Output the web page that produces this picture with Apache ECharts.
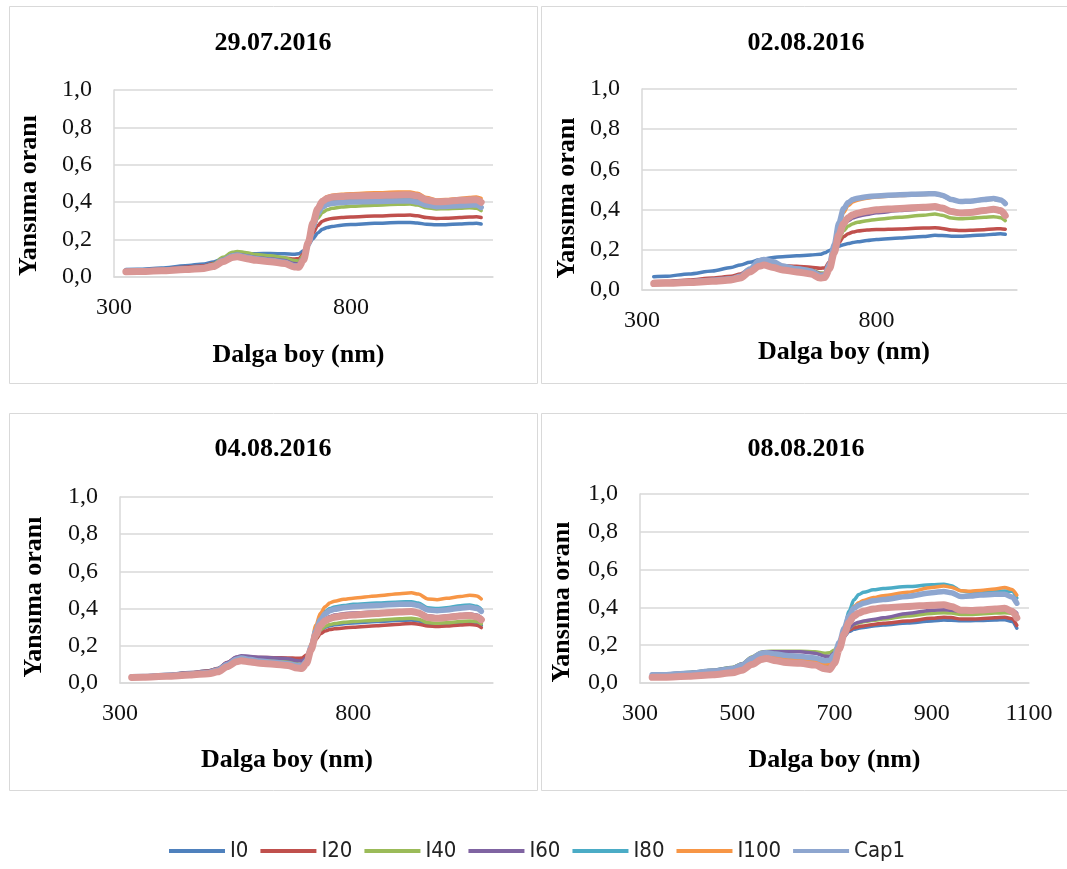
<!DOCTYPE html>
<html>
<head>
<meta charset="utf-8">
<script src="https://cdn.jsdelivr.net/npm/echarts@6/dist/echarts.min.js"></script>
<style>
html,body{margin:0;padding:0;background:#fff;}
#chart{width:1067px;height:869px;}
</style>
</head>
<body>
<div id="chart"></div>
<script>
// ---------- DATA ----------
const wavelengths = [325,350,400,450,490,510,530,550,560,580,600,630,660,680,690,700,710,720,730,740,750,760,780,800,850,900,925,940,960,980,1000,1030,1050,1065,1075];
const seriesNames = ['I0','I20','I40','I60','I80','I100','Cap1','Cap2'];
const legendNames = ['I0','I20','I40','I60','I80','I100','Cap1'];
const panelTitles = ['29.07.2016','02.08.2016','04.08.2016','08.08.2016'];
const xTicksWide = [300, 800];
const xTicksFine = [300, 500, 700, 900, 1100];
const yTicks = [0, 0.2, 0.4, 0.6, 0.8, 1.0];

// 29.07.2016
const p1_I0   = [0.040,0.041,0.048,0.060,0.070,0.080,0.098,0.115,0.121,0.124,0.125,0.126,0.124,0.122,0.125,0.140,0.170,0.205,0.235,0.255,0.265,0.270,0.277,0.281,0.287,0.291,0.292,0.289,0.282,0.279,0.280,0.284,0.286,0.287,0.283];
const p1_I20  = [0.035,0.036,0.042,0.052,0.060,0.072,0.095,0.118,0.122,0.116,0.110,0.107,0.102,0.096,0.098,0.125,0.180,0.235,0.275,0.298,0.308,0.313,0.318,0.321,0.326,0.330,0.331,0.327,0.318,0.313,0.314,0.318,0.321,0.322,0.318];
const p1_I40  = [0.032,0.033,0.038,0.047,0.055,0.070,0.105,0.132,0.137,0.130,0.120,0.113,0.103,0.088,0.085,0.115,0.185,0.260,0.315,0.345,0.360,0.367,0.374,0.378,0.384,0.389,0.390,0.385,0.370,0.364,0.365,0.368,0.370,0.368,0.355];
const p1_I60  = [0.032,0.033,0.037,0.045,0.052,0.065,0.095,0.118,0.122,0.113,0.104,0.097,0.088,0.072,0.070,0.105,0.180,0.270,0.335,0.370,0.385,0.392,0.398,0.401,0.405,0.408,0.408,0.402,0.388,0.380,0.381,0.385,0.388,0.388,0.375];
const p1_I80  = [0.031,0.032,0.036,0.044,0.050,0.062,0.090,0.114,0.118,0.108,0.098,0.090,0.080,0.062,0.060,0.098,0.180,0.280,0.350,0.388,0.402,0.408,0.413,0.416,0.420,0.423,0.423,0.417,0.400,0.392,0.393,0.398,0.401,0.402,0.395];
const p1_I100 = [0.030,0.031,0.035,0.042,0.048,0.060,0.088,0.112,0.116,0.106,0.096,0.088,0.077,0.058,0.055,0.095,0.190,0.300,0.375,0.415,0.430,0.437,0.442,0.445,0.450,0.454,0.455,0.448,0.425,0.412,0.414,0.420,0.425,0.428,0.420];
const p1_Cap1 = [0.031,0.032,0.036,0.044,0.051,0.062,0.090,0.113,0.117,0.107,0.097,0.089,0.079,0.060,0.058,0.095,0.175,0.270,0.340,0.375,0.388,0.394,0.398,0.401,0.404,0.406,0.406,0.400,0.384,0.376,0.377,0.381,0.384,0.385,0.372];
const p1_Cap2 = [0.028,0.029,0.033,0.040,0.046,0.056,0.082,0.104,0.108,0.098,0.089,0.082,0.072,0.054,0.052,0.090,0.185,0.290,0.365,0.405,0.420,0.427,0.431,0.433,0.436,0.439,0.440,0.433,0.412,0.402,0.404,0.410,0.412,0.413,0.400];

// 02.08.2016
const p2_I0   = [0.066,0.068,0.080,0.095,0.112,0.125,0.138,0.150,0.155,0.162,0.166,0.170,0.174,0.178,0.185,0.197,0.208,0.218,0.225,0.231,0.236,0.240,0.246,0.251,0.259,0.266,0.272,0.271,0.268,0.268,0.270,0.274,0.277,0.280,0.277];
const p2_I20  = [0.042,0.043,0.050,0.060,0.068,0.080,0.105,0.130,0.135,0.128,0.122,0.118,0.113,0.108,0.110,0.140,0.190,0.235,0.265,0.280,0.288,0.293,0.298,0.301,0.304,0.308,0.310,0.306,0.298,0.296,0.297,0.300,0.304,0.305,0.302];
const p2_I40  = [0.035,0.036,0.042,0.050,0.058,0.070,0.100,0.128,0.132,0.122,0.114,0.108,0.100,0.085,0.085,0.115,0.180,0.250,0.295,0.318,0.330,0.337,0.345,0.351,0.362,0.372,0.378,0.372,0.358,0.354,0.357,0.362,0.365,0.360,0.345];
const p2_I60  = [0.034,0.035,0.041,0.048,0.056,0.068,0.100,0.130,0.136,0.126,0.117,0.110,0.100,0.082,0.080,0.115,0.190,0.270,0.320,0.345,0.358,0.366,0.376,0.384,0.395,0.403,0.407,0.400,0.385,0.381,0.384,0.390,0.395,0.390,0.375];
const p2_I80  = [0.033,0.034,0.040,0.047,0.055,0.066,0.100,0.135,0.142,0.132,0.118,0.106,0.095,0.075,0.078,0.125,0.220,0.330,0.400,0.432,0.448,0.455,0.462,0.467,0.473,0.477,0.478,0.470,0.448,0.440,0.442,0.448,0.452,0.445,0.432];
const p2_I100 = [0.033,0.034,0.040,0.047,0.055,0.066,0.098,0.130,0.137,0.127,0.116,0.105,0.096,0.078,0.080,0.118,0.205,0.310,0.385,0.420,0.438,0.447,0.457,0.463,0.470,0.475,0.477,0.469,0.448,0.440,0.442,0.448,0.452,0.446,0.435];
const p2_Cap1 = [0.034,0.035,0.041,0.048,0.056,0.068,0.105,0.145,0.152,0.140,0.120,0.106,0.095,0.072,0.075,0.128,0.225,0.335,0.405,0.435,0.450,0.457,0.464,0.468,0.474,0.478,0.479,0.472,0.450,0.440,0.442,0.450,0.455,0.448,0.430];
const p2_Cap2 = [0.032,0.033,0.037,0.043,0.050,0.060,0.090,0.118,0.124,0.112,0.100,0.090,0.080,0.060,0.062,0.105,0.185,0.275,0.330,0.360,0.375,0.382,0.392,0.399,0.406,0.412,0.415,0.408,0.390,0.383,0.386,0.395,0.402,0.395,0.370];

// 04.08.2016
const p3_I0   = [0.037,0.038,0.046,0.056,0.066,0.078,0.108,0.135,0.140,0.136,0.132,0.130,0.127,0.122,0.122,0.140,0.185,0.240,0.280,0.300,0.308,0.313,0.319,0.323,0.330,0.337,0.339,0.334,0.318,0.315,0.318,0.324,0.327,0.322,0.310];
const p3_I20  = [0.036,0.037,0.045,0.055,0.065,0.078,0.110,0.138,0.143,0.140,0.137,0.136,0.135,0.133,0.134,0.150,0.190,0.235,0.265,0.280,0.287,0.291,0.296,0.300,0.308,0.316,0.320,0.316,0.306,0.304,0.306,0.312,0.315,0.310,0.298];
const p3_I40  = [0.034,0.035,0.042,0.050,0.058,0.072,0.105,0.134,0.140,0.133,0.125,0.120,0.114,0.103,0.100,0.122,0.180,0.240,0.285,0.305,0.314,0.320,0.326,0.330,0.338,0.346,0.348,0.343,0.325,0.321,0.324,0.330,0.334,0.330,0.318];
const p3_I60  = [0.035,0.036,0.043,0.052,0.060,0.075,0.110,0.140,0.147,0.143,0.138,0.135,0.130,0.120,0.118,0.135,0.190,0.260,0.315,0.345,0.358,0.365,0.372,0.377,0.382,0.387,0.388,0.382,0.362,0.356,0.360,0.368,0.372,0.366,0.350];
const p3_I80  = [0.033,0.034,0.040,0.048,0.056,0.068,0.098,0.126,0.132,0.124,0.116,0.110,0.102,0.092,0.090,0.120,0.200,0.290,0.350,0.385,0.400,0.408,0.417,0.423,0.430,0.436,0.437,0.430,0.405,0.400,0.405,0.415,0.420,0.412,0.395];
const p3_I100 = [0.032,0.033,0.038,0.046,0.054,0.066,0.095,0.122,0.128,0.120,0.112,0.106,0.097,0.085,0.084,0.120,0.210,0.310,0.375,0.410,0.430,0.440,0.450,0.456,0.468,0.480,0.485,0.478,0.452,0.448,0.455,0.465,0.472,0.468,0.452];
const p3_Cap1 = [0.034,0.035,0.041,0.049,0.057,0.070,0.100,0.128,0.134,0.126,0.118,0.112,0.104,0.094,0.092,0.118,0.195,0.280,0.340,0.372,0.388,0.396,0.405,0.410,0.417,0.423,0.424,0.417,0.393,0.388,0.393,0.402,0.407,0.400,0.385];
const p3_Cap2 = [0.030,0.031,0.036,0.043,0.050,0.060,0.088,0.114,0.120,0.113,0.106,0.101,0.094,0.080,0.078,0.105,0.180,0.260,0.310,0.335,0.346,0.354,0.361,0.366,0.374,0.382,0.384,0.377,0.352,0.348,0.352,0.360,0.363,0.355,0.340];

// 08.08.2016
const p4_I0   = [0.046,0.047,0.056,0.068,0.082,0.100,0.132,0.155,0.157,0.150,0.143,0.138,0.132,0.120,0.120,0.145,0.195,0.245,0.272,0.284,0.290,0.294,0.302,0.307,0.318,0.328,0.333,0.332,0.330,0.330,0.331,0.333,0.335,0.325,0.290];
const p4_I20  = [0.042,0.043,0.051,0.062,0.075,0.093,0.127,0.150,0.152,0.145,0.138,0.134,0.128,0.115,0.115,0.140,0.195,0.250,0.280,0.292,0.298,0.302,0.310,0.316,0.328,0.342,0.348,0.346,0.338,0.338,0.340,0.345,0.348,0.340,0.305];
const p4_I40  = [0.045,0.046,0.055,0.067,0.082,0.102,0.138,0.164,0.167,0.168,0.168,0.168,0.165,0.158,0.160,0.175,0.210,0.255,0.290,0.308,0.318,0.324,0.332,0.338,0.355,0.368,0.372,0.370,0.362,0.362,0.365,0.370,0.372,0.368,0.355];
const p4_I60  = [0.045,0.046,0.054,0.066,0.080,0.100,0.135,0.162,0.166,0.166,0.166,0.165,0.158,0.142,0.142,0.160,0.200,0.250,0.290,0.312,0.322,0.328,0.336,0.345,0.368,0.385,0.388,0.385,0.378,0.378,0.380,0.386,0.388,0.385,0.370];
const p4_I80  = [0.042,0.043,0.050,0.060,0.072,0.090,0.125,0.150,0.152,0.140,0.128,0.122,0.112,0.092,0.092,0.130,0.210,0.290,0.380,0.440,0.468,0.480,0.493,0.500,0.510,0.520,0.523,0.515,0.488,0.480,0.480,0.484,0.487,0.485,0.450];
const p4_I100 = [0.040,0.041,0.048,0.058,0.070,0.088,0.122,0.148,0.150,0.140,0.130,0.125,0.116,0.100,0.100,0.130,0.200,0.280,0.355,0.405,0.425,0.437,0.452,0.462,0.480,0.505,0.513,0.507,0.488,0.486,0.490,0.498,0.505,0.495,0.465];
const p4_Cap1 = [0.043,0.044,0.052,0.063,0.076,0.095,0.130,0.158,0.160,0.153,0.146,0.140,0.132,0.118,0.120,0.150,0.215,0.290,0.355,0.395,0.412,0.422,0.435,0.442,0.458,0.478,0.484,0.478,0.458,0.460,0.465,0.470,0.470,0.455,0.422];
const p4_Cap2 = [0.030,0.031,0.036,0.044,0.054,0.068,0.098,0.125,0.130,0.118,0.108,0.104,0.095,0.075,0.072,0.105,0.180,0.260,0.320,0.355,0.370,0.380,0.392,0.398,0.405,0.412,0.414,0.405,0.385,0.384,0.386,0.392,0.395,0.380,0.345];

const panelSeries = [
  [p1_I0,p1_I20,p1_I40,p1_I60,p1_I80,p1_I100,p1_Cap1,p1_Cap2],
  [p2_I0,p2_I20,p2_I40,p2_I60,p2_I80,p2_I100,p2_Cap1,p2_Cap2],
  [p3_I0,p3_I20,p3_I40,p3_I60,p3_I80,p3_I100,p3_Cap1,p3_Cap2],
  [p4_I0,p4_I20,p4_I40,p4_I60,p4_I80,p4_I100,p4_Cap1,p4_Cap2]
];
const panelXTicks = [xTicksWide, xTicksWide, xTicksWide, xTicksFine];

// ---------- STYLE / LAYOUT ----------
const colors = ['#4F81BD','#C0504D','#9BBB59','#8064A2','#4BACC6','#F79646','#8EA6CF','#D99694'];
const widths = [3.5,3.5,3.5,3.5,3.5,3.5,5.5,7];
const SERIF = '"Liberation Serif","Times New Roman",serif';
const SANS = '"DejaVu Sans Condensed","Liberation Sans Narrow","DejaVu Sans",sans-serif';
const GRAY = '#D9D9D9';

const layouts = [
  {grid:{left:114, top:90, width:379, height:187}, border:[9,6,528,377], title:[273,28], yGap:72, yPad:24, xGap:65, xPadL:0, xPadR:10},
  {grid:{left:642, top:89, width:375, height:201}, border:[541,6,540,377], title:[806,28], yGap:62, yPad:17, xGap:49, xPadL:29, xPadR:0},
  {grid:{left:120, top:497, width:373, height:186}, border:[9,413,528,377], title:[273,434], yGap:73, yPad:14, xGap:64, xPadL:0, xPadR:39},
  {grid:{left:640, top:494, width:389, height:189}, border:[541,413,540,377], title:[806,434], yGap:65, yPad:27, xGap:64, xPadL:0, xPadR:0}
];

const grids = [], xAxes = [], yAxes = [], series = [], titles = [], graphics = [];
layouts.forEach((L, p) => {
  grids.push(Object.assign({containLabel:false, outerBoundsMode:'none'}, L.grid));
  graphics.push({type:'rect', silent:true, z:-1,
    shape:{x:L.border[0]+0.5, y:L.border[1]+0.5, width:L.border[2], height:L.border[3]},
    style:{fill:null, stroke:GRAY, lineWidth:1}});
  titles.push({text:panelTitles[p], left:L.title[0], top:L.title[1], textAlign:'center', padding:0,
    textStyle:{fontFamily:SERIF, fontWeight:'bold', fontSize:26, color:'#000', lineHeight:30}});
  xAxes.push({type:'value', gridIndex:p, min:300, max:1100,
    name:'Dalga boy (nm)', nameLocation:'middle', nameGap:L.xGap,
    nameTextStyle:{fontFamily:SERIF, fontWeight:'bold', fontSize:26, color:'#000', padding:[0,L.xPadR,0,L.xPadL]},
    axisLine:{show:true, lineStyle:{color:GRAY, width:1.5}},
    axisTick:{show:false},
    splitLine:{show:false},
    axisLabel:{customValues:panelXTicks[p], margin:19, fontFamily:SERIF, fontSize:24, color:'#111',
      formatter: v => String(Math.round(v))}
  });
  yAxes.push({type:'value', gridIndex:p, min:0, max:1, interval:0.2,
    name:'Yansıma oranı', nameLocation:'middle', nameGap:L.yGap,
    nameTextStyle:{fontFamily:SERIF, fontWeight:'bold', fontSize:26, color:'#000', padding:[0,L.yPad,0,0]},
    axisLine:{show:true, lineStyle:{color:GRAY, width:1.5}},
    axisTick:{show:false},
    splitLine:{show:true, lineStyle:{color:GRAY, width:1.5}},
    axisLabel:{customValues:yTicks, margin:22, fontFamily:SERIF, fontSize:24, color:'#111',
      formatter: v => v.toFixed(1).replace('.', ',')}
  });
  panelSeries[p].forEach((arr, s) => {
    series.push({
      type:'line', name:seriesNames[s], xAxisIndex:p, yAxisIndex:p,
      data: wavelengths.map((w, i) => [w, arr[i]]),
      showSymbol:false, symbol:'none', smooth:0.3, smoothMonotone:'x',
      color:colors[s],
      lineStyle:{width:widths[s], color:colors[s], cap:'round', join:'round'},
      emphasis:{disabled:true}
    });
  });
});

const chart = echarts.init(document.getElementById('chart'), null, {renderer:'canvas'});
chart.setOption({
  animation:false,
  backgroundColor:'#fff',
  title:titles,
  grid:grids,
  xAxis:xAxes,
  yAxis:yAxes,
  graphic:graphics,
  legend:{
    data:legendNames, left:169, top:838, padding:0, itemGap:12,
    itemWidth:56, itemHeight:4, icon:'rect',
    textStyle:{fontFamily:SANS, fontSize:22, color:'#222', lineHeight:26}
  },
  series:series
});
</script>
</body>
</html>
